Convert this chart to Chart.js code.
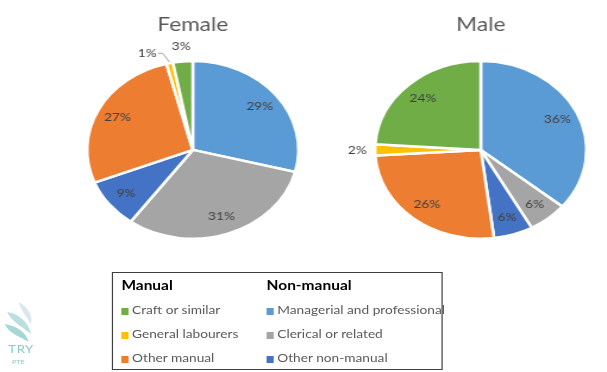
<!DOCTYPE html>
<html>
<head>
<meta charset="utf-8">
<script src="https://cdn.jsdelivr.net/npm/chart.js@4.4.1/dist/chart.umd.min.js"></script>
<style>
  html, body { margin: 0; padding: 0; background: #fff; }
  body { width: 607px; height: 372px; overflow: hidden; }
  /* the reference is stretched sideways, so draw narrow and widen it */
  #stage { position: relative; width: 510px; height: 372px; transform: scaleX(1.19); transform-origin: 0 0; font-family: Lato, "Liberation Sans", sans-serif; }
  canvas { position: absolute; top: 0; }
  #femaleChart { left: 42px; }
  #maleChart { left: 284px; }
  #legend { position: absolute; left: 94px; top: 272px; width: 276px; height: 96px; border: 1px solid #3f3f3f; }
  #legend .head { position: absolute; font-weight: bold; font-size: 13px; color: #000; line-height: 16px; }
  #legend .item { position: absolute; font-size: 11.5px; color: #595959; line-height: 14px; white-space: nowrap; }
  #legend .box { display: inline-block; width: 6px; height: 7px; margin-right: 3px; vertical-align: -0.5px; }
  #logo { position: absolute; left: 2px; top: 300px; width: 28px; height: 70px; }
</style>
</head>
<body>
<div id="stage">
  <canvas id="femaleChart" width="240" height="244"></canvas>
  <canvas id="maleChart" width="240" height="244"></canvas>
  <div id="legend"></div>
  <div id="logo">
    <svg width="28" height="42" viewBox="0 0 28 42">
      <path d="M14 2 C22 8 26 16 24 24 C20 16 15 10 14 2 Z" fill="#dbe6ee"/>
      <path d="M4 12 C14 14 22 22 24 34 C16 26 8 22 4 12 Z" fill="#b9dfe0"/>
      <path d="M2 24 C12 26 20 32 22 42 C14 36 6 34 2 24 Z" fill="#a7d6d6"/>
    </svg>
    <div style="position:absolute;left:5px;top:42px;font-size:11px;color:#8ccaca;letter-spacing:0.5px;">TRY</div>
    <div style="position:absolute;left:8px;top:58px;font-size:6px;color:#8ccaca;">PTE</div>
  </div>
</div>
<script>
// slice order as drawn, clockwise from 12 o'clock
const pieLabels = ['Managerial and professional', 'Clerical or related', 'Other non-manual',
                   'Other manual', 'General labourers', 'Craft or similar'];
const pieColors = ['#5B9BD5', '#A5A5A5', '#4472C4', '#ED7D31', '#FFC000', '#70AD47'];
const femaleValues = [29, 31, 9, 27, 1, 3];
const maleValues = [36, 6, 6, 26, 2, 24];

// legend groups
const manualLabels = ['Craft or similar', 'General labourers', 'Other manual'];
const nonManualLabels = ['Managerial and professional', 'Clerical or related', 'Other non-manual'];

// Draw the percentage labels on (or just outside) each slice
const sliceLabels = {
    id: 'sliceLabels',
    afterDatasetsDraw(chart, args, opts) {
        const ctx = chart.ctx;
        const meta = chart.getDatasetMeta(0);
        const values = chart.data.datasets[0].data;
        ctx.save();
        ctx.font = opts.font;
        ctx.fillStyle = opts.color;
        ctx.textAlign = 'center';
        ctx.textBaseline = 'middle';
        meta.data.forEach((arc, i) => {
            const p = arc.getProps(['x', 'y', 'startAngle', 'endAngle', 'outerRadius'], true);
            const mid = (p.startAngle + p.endAngle) / 2;
            const text = values[i] + '%';
            if (opts.outside.includes(i)) {
                const shift = (opts.shift[i] || 0) * Math.PI / 180;
                const a = mid + shift;
                const r = p.outerRadius + opts.gap;
                const lx = p.x + Math.cos(a) * r;
                const ly = p.y + Math.sin(a) * r;
                ctx.fillText(text, lx, ly);
                if (shift) {
                    // leader line from label to the slice edge
                    const w = ctx.measureText(text).width;
                    const ex = p.x + Math.cos(mid) * (p.outerRadius + 1);
                    const ey = p.y + Math.sin(mid) * (p.outerRadius + 1);
                    ctx.strokeStyle = '#a6a6a6';
                    ctx.lineWidth = 1;
                    ctx.beginPath();
                    ctx.moveTo(lx + w / 2 + 1, ly);
                    ctx.lineTo(lx + w / 2 + 5, ly);
                    ctx.lineTo(ex, ey);
                    ctx.stroke();
                }
            } else {
                const r = p.outerRadius * opts.inside;
                ctx.fillText(text, p.x + Math.cos(mid) * r, p.y + Math.sin(mid) * r);
            }
        });
        ctx.restore();
    }
};

function makePie(id, title, values, outside, shift) {
    const ctx = document.getElementById(id).getContext('2d');
    return new Chart(ctx, {
        type: 'pie',
        data: {
            labels: pieLabels,
            datasets: [{
                data: values,
                backgroundColor: pieColors,
                borderColor: '#ffffff',
                borderWidth: 2.5,
                hoverOffset: 0
            }]
        },
        options: {
            responsive: false,
            animation: false,
            layout: { padding: { top: 0, bottom: 4, left: 0, right: 0 } },
            plugins: {
                legend: { display: false },
                tooltip: { enabled: false },
                title: {
                    display: true,
                    text: title,
                    color: '#595959',
                    font: { family: 'Lato', size: 19, weight: 'normal', lineHeight: 1.2 },
                    padding: { top: 13, bottom: 24 }
                },
                sliceLabels: {
                    font: '11.5px Lato',
                    color: '#404040',
                    inside: 0.8,
                    gap: 15,
                    outside: outside,
                    shift: shift
                }
            }
        },
        plugins: [sliceLabels]
    });
}

makePie('femaleChart', 'Female', femaleValues, [4, 5], { 4: -9 });
makePie('maleChart', 'Male', maleValues, [4], {});

// Build the two-column legend
function buildLegend() {
    const legend = document.getElementById('legend');
    const cols = [
        { head: 'Manual', items: manualLabels, left: 7 },
        { head: 'Non-manual', items: nonManualLabels, left: 129 }
    ];
    const rowTops = [30, 54, 78];
    cols.forEach(col => {
        const h = document.createElement('div');
        h.className = 'head';
        h.style.left = col.left + 'px';
        h.style.top = '4px';
        h.textContent = col.head;
        legend.appendChild(h);
        col.items.forEach((label, j) => {
            const item = document.createElement('div');
            item.className = 'item';
            item.style.left = col.left + 'px';
            item.style.top = rowTops[j] + 'px';
            const box = document.createElement('span');
            box.className = 'box';
            box.style.background = pieColors[pieLabels.indexOf(label)];
            item.appendChild(box);
            item.appendChild(document.createTextNode(label));
            legend.appendChild(item);
        });
    });
}

buildLegend();
</script>
</body>
</html>
